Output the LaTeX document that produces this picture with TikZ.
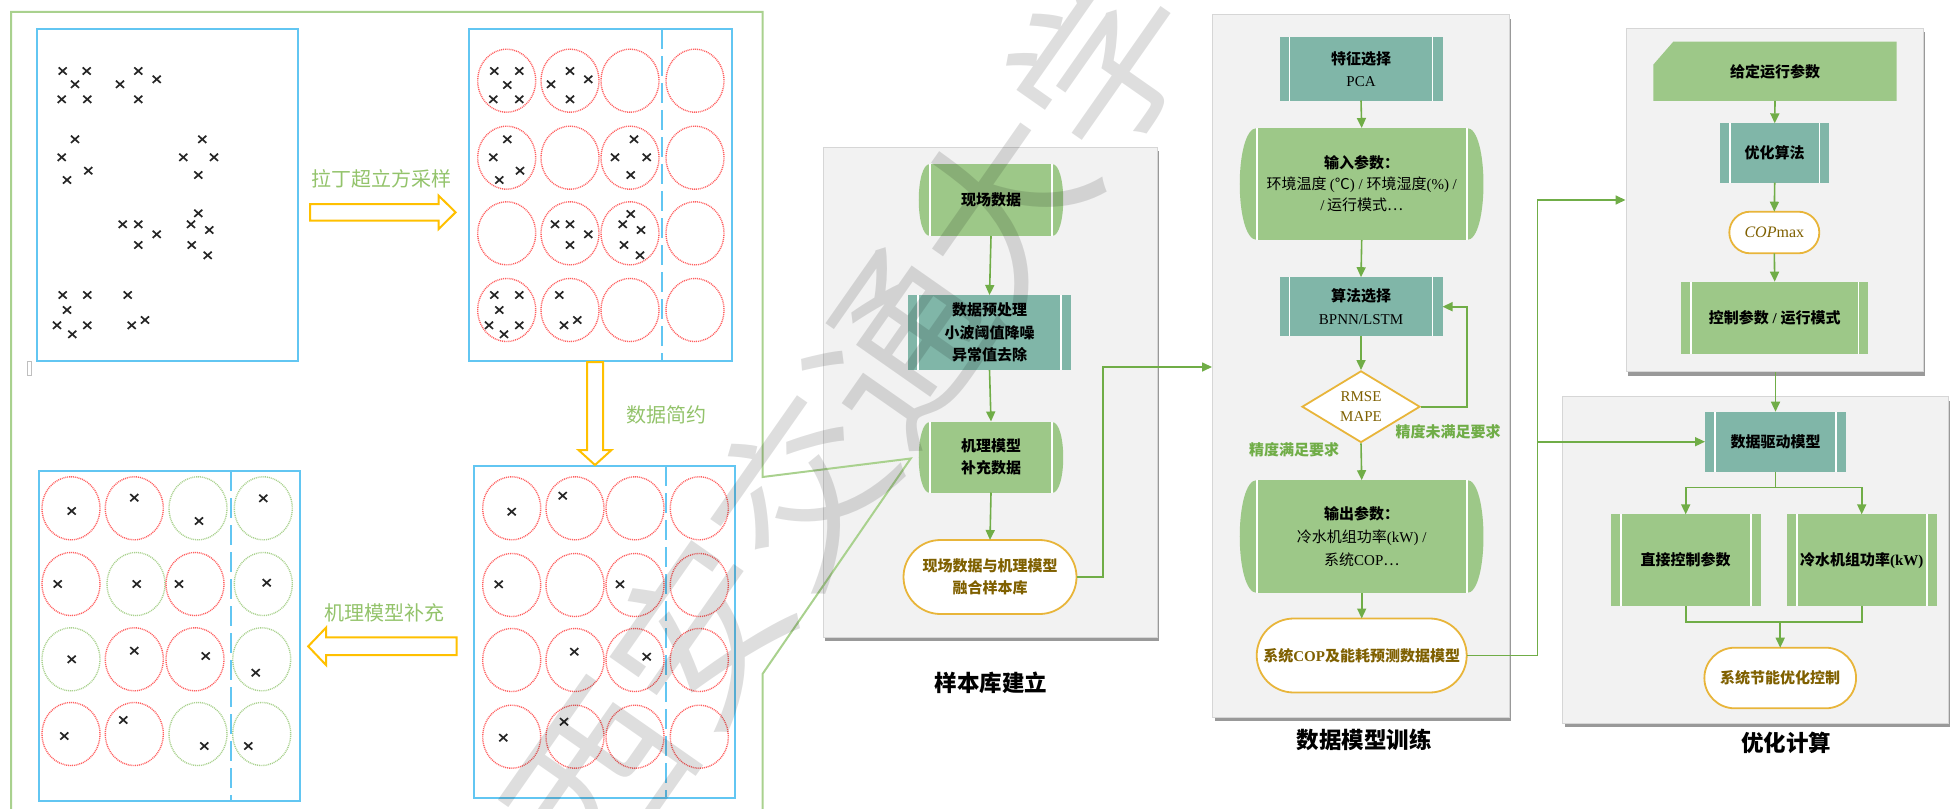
\documentclass[tikz,border=0pt]{standalone}
\usepackage{fontspec}
\setmainfont{Noto Sans CJK SC}
\newfontfamily\lat{Liberation Serif}
\usetikzlibrary{arrows.meta,shapes.geometric,shapes.misc,calc,shadows}
\definecolor{gfill}{HTML}{9DC888}
\definecolor{tfill}{HTML}{80B6A8}
\definecolor{cgreen}{HTML}{70AD47}
\definecolor{lgreen}{HTML}{A9D18E}
\definecolor{lblgreen}{HTML}{93C36B}
\definecolor{bblue}{HTML}{62C6F2}
\definecolor{rdot}{HTML}{FF5F5F}
\definecolor{gdot}{HTML}{A9D18E}
\definecolor{gold}{HTML}{E8B53A}
\definecolor{tbrown}{HTML}{7F6000}
\definecolor{arrowy}{HTML}{FFC000}
\definecolor{pfill}{HTML}{F2F2F2}
\definecolor{pline}{HTML}{D6D6D6}
\pgfdeclarelayer{back}
\pgfdeclarelayer{shp}
\pgfsetlayers{back,shp,main}
\tikzset{
  bluebox/.style={draw=bblue, line width=2.2pt},
  bluedash/.style={draw=bblue, line width=2pt, dash pattern=on 20pt off 7pt},
  rell/.style={draw=rdot, line width=1.4pt, dash pattern=on 1pt off 0.9pt},
  gell/.style={draw=gdot, line width=1.4pt, dash pattern=on 1pt off 0.9pt},
  xmk/.style={draw=black!85, line width=1.7pt},
  xm/.pic={\draw[xmk] (-4,-3.6) -- (4,3.6) (-4,3.6) -- (4,-3.6);},
  blockarrow/.style={draw=arrowy, line width=2pt, fill=white, line join=miter},
  lbl/.style={text=lblgreen, font=\fontsize{20}{24}\selectfont},
  panel/.style={rectangle, fill=pfill, draw=pline, line width=1pt, inner sep=0pt,
    drop shadow={shadow xshift=2pt, shadow yshift=-4pt, fill=black!40, opacity=1}},
  title/.style={font=\fontsize{22.5}{26}\selectfont\bfseries},
  proc/.style={rectangle, fill=#1, inner sep=0pt, outer sep=0pt, align=center,
    font=\fontsize{15}{22.5}\selectfont\bfseries,
    path picture={\draw[white,line width=1.6pt]
      ([xshift=10pt]path picture bounding box.north west) -- ([xshift=10pt]path picture bounding box.south west)
      ([xshift=-10pt]path picture bounding box.north east) -- ([xshift=-10pt]path picture bounding box.south east);}},
  drum/.style={rectangle, fill=gfill, inner sep=0pt, outer sep=0pt, align=center,
    font=\fontsize{15}{22.5}\selectfont},
  stadium/.style={rounded rectangle, draw=gold, line width=1.8pt, fill=white, inner sep=0pt,
    outer sep=0pt, text=tbrown, align=center, font=\fontsize{15}{22}\selectfont\bfseries},
  conn/.style={draw=cgreen, line width=1.6pt},
  arr/.style={conn, -{Triangle[length=10pt,width=9pt]}},
  note/.style={text=cgreen, font=\fontsize{15}{18}\selectfont\bfseries},
}
\newcommand\sidebulge[2]{%
  \begin{pgfonlayer}{shp}
  \fill[gfill] (#1.north east) .. controls ($(#1.north east)+(4*#2/3,0)$) and ($(#1.south east)+(4*#2/3,0)$) .. (#1.south east) -- cycle;
  \fill[gfill] (#1.north west) .. controls ($(#1.north west)+(-4*#2/3,0)$) and ($(#1.south west)+(-4*#2/3,0)$) .. (#1.south west) -- cycle;
  \end{pgfonlayer}
  \draw[white,line width=1.6pt] (#1.north west) -- (#1.south west) (#1.north east) -- (#1.south east);}
\begin{document}
\begin{tikzpicture}[x=1pt,y=-1pt]
\useasboundingbox (0,0) rectangle (1950,808);

% ---------------- left sampling part ----------------
\draw[draw=lgreen, line width=2pt, line join=miter] (11,812) -- (11,12) -- (762.5,12) -- (762.5,477) -- (910.7,458.5) -- (762.5,674) -- (762.5,812);
\draw[black!25, line width=0.8pt] (27,361) rectangle (31,375);

% box 1
\draw[bluebox] (37,29) rectangle (298,361);
\foreach \a/\b in {62.7/71, 86.7/71, 75/84.3, 61.7/99.3, 87.3/99.3,
  138.3/71, 120/84.3, 156.7/79.3, 138.3/99.3,
  75/139.3, 61.7/157.3, 88.3/170.7, 67/180,
  202.3/139.3, 183.3/157.3, 214/157.3, 198.3/175,
  122.7/224.3, 138.3/224.3, 156.7/234.3, 138.3/245,
  198.3/213.3, 191/224.3, 209.3/230, 191.7/245, 207.7/255.3,
  62.7/295, 87.3/295, 67/310, 57/325.3, 72.3/334.3, 87.3/325.3,
  127.7/295, 131.7/325.3, 145/320}
  \pic at (\a,\b) {xm};

% box 2
\draw[bluebox] (469.3,29.3) rectangle (731.7,360.7);
\draw[bluedash] (661.7,29.3) -- (661.7,360.7);
\foreach \cx in {506.7,570,630,695}
  \foreach \cy in {80.7,157.7,233.3,310}
    \draw[rell] (\cx,\cy) ellipse [x radius=29, y radius=31.5];
\foreach \a/\b in {494.3/71, 519.3/71, 507.3/85, 493.3/99.3, 519.3/99.3,
  570/71, 551/84.3, 588.3/79.3, 570/99.3,
  507.3/139.3, 493.3/157.3, 520/170.7, 499.3/180,
  634/139.3, 615/157.3, 646.7/157.3, 630.7/175,
  555/224.3, 570/224.3, 588.3/234.3, 570/245,
  630.7/214, 622.7/224.3, 641/230, 624/245, 640/255.3,
  494.3/295, 519.3/295, 499.3/310, 489/325.3, 504/334.3, 519.3/325.3,
  559.3/295, 564/325.3, 577.3/320}
  \pic at (\a,\b) {xm};

% box 3
\draw[bluebox] (39,471) rectangle (300,800.7);
\draw[bluedash] (231,471) -- (231,800.7);
\foreach \cx/\cy/\s in {71/508.3/rell, 134.3/508.3/rell, 198/508.3/gell, 263.3/508.3/gell,
  71/584/rell, 136/584/gell, 195/584/rell, 263.3/584/gell,
  71/659.3/gell, 134.3/659.3/rell, 195/659.3/rell, 261.7/659.3/gell,
  71/734/rell, 134.3/734/rell, 198/734/gell, 261.7/734/gell}
  \draw[\s] (\cx,\cy) ellipse [x radius=29, y radius=31.5];
\foreach \a/\b in {71.7/511, 134.3/497.7, 199/521, 263.3/498.3,
  57.7/584, 136.7/584, 179/584, 266.7/582.7,
  71.7/659.3, 134.3/650.7, 205.7/656, 255.7/672.7,
  64.3/736, 123.3/720, 204.3/746, 248.3/746}
  \pic at (\a,\b) {xm};

% box 4
\draw[bluebox] (474,466) rectangle (735,798);
\draw[bluedash] (666,466) -- (666,798);
\foreach \cx in {511.7,575,635,699.3}
  \foreach \cy in {508.3,585,660,736.7}
    \draw[rell] (\cx,\cy) ellipse [x radius=29, y radius=31.5];
\foreach \a/\b in {511.7/511.7, 562.7/495.7, 498.7/584.3, 620/584.3,
  574.3/651.7, 646.7/656.7, 503.3/737.7, 564/721.7}
  \pic at (\a,\b) {xm};

% block arrows
\draw[blockarrow] (310,204) -- (438.7,204) -- (438.7,195.7) -- (455.6,212.3) -- (438.7,229) -- (438.7,220.7) -- (310,220.7) -- cycle;
\draw[blockarrow] (587,362) -- (603,362) -- (603,450) -- (611.5,450) -- (595,465) -- (578.5,450) -- (587,450) -- cycle;
\draw[blockarrow] (456.5,637.3) -- (326,637.3) -- (326,627.7) -- (308.2,646.3) -- (326,665) -- (326,655) -- (456.5,655) -- cycle;
\node[lbl] (lab1) at (381.7,179) {拉丁超立方采样};
\node[lbl] (lab2) at (666.7,414.7) {数据简约};
\node[lbl] (lab3) at (384,613.3) {机理模型补充};

% ---------------- panels ----------------
\begin{pgfonlayer}{back}
\node[panel, minimum width=334pt, minimum height=490pt] (P1) at (990,392) {};
\node[panel, minimum width=296.5pt, minimum height=702pt] (P2) at (1360.75,366) {};
\node[panel, minimum width=297.3pt, minimum height=343.4pt] (P3) at (1774.65,200) {};
\node[panel, minimum width=385.6pt, minimum height=326.6pt] (P4) at (1755.5,560) {};
\end{pgfonlayer}
\node[title] (t1) at (991,683) {样本库建立};
\node[title] (t2) at (1364,740) {数据模型训练};
\node[title] (t4) at (1786,743) {优化计算};

% panel 1
\node[drum, font=\fontsize{15}{22.5}\selectfont\bfseries, minimum width=122pt, minimum height=72pt] (n1) at (991,200) {现场数据};
\node[proc=tfill, minimum width=163pt, minimum height=75pt] (n2) at (989.5,332.5) {数据预处理\\小波阈值降噪\\异常值去除};
\node[drum, font=\fontsize{15}{22.5}\selectfont\bfseries, minimum width=122pt, minimum height=71pt] (n3) at (991,457) {机理模型\\补充数据};
\node[stadium, minimum width=173pt, minimum height=74pt] (n4) at (990,577) {现场数据与机理模型\\融合样本库};
\sidebulge{n1}{11}
\sidebulge{n3}{11}
\draw[arr] (n1.south) -- (n2.north);
\draw[arr] (n2.south) -- (n3.north);
\draw[arr] (n3.south) -- (n4.north);
\coordinate (j1) at (1103,577);
\coordinate (j1b) at (1103,367);
\draw[arr] (n4.east) -- (j1) -- (j1b) -- (j1b -| P2.west);

% panel 2
\node[proc=tfill, minimum width=163pt, minimum height=63pt] (m1) at (1361,69) {特征选择\\{\lat\mdseries PCA}};
\node[drum, minimum width=210pt, minimum height=112pt, font=\fontsize{15}{21}\selectfont] (m2) at (1361.7,184)
  {{\bfseries 输入参数：}\\环境温度 {\lat (}℃{\lat ) / }环境湿度{\lat (\%) /}\\{\lat /\,}运行模式…};
\node[proc=tfill, minimum width=163pt, minimum height=59pt] (m3) at (1361,306.7) {算法选择\\{\lat\mdseries BPNN/LSTM}};
\node[diamond, draw=gold, line width=1.8pt, fill=white, minimum width=118pt, minimum height=63pt, inner sep=0pt,
  text=tbrown, align=center, font=\lat\fontsize{15}{20}\selectfont] (m4) at (1361,406.7) {RMSE\\MAPE};
\node[drum, minimum width=210pt, minimum height=113pt, font=\fontsize{15}{23}\selectfont] (m5) at (1361.7,536.7)
  {{\bfseries 输出参数：}\\冷水机组功率{\lat (kW) /}\\系统{\lat COP}…};
\node[stadium, minimum width=210pt, minimum height=74pt] (m6) at (1361.7,655.5) {系统{\lat COP}及能耗预测数据模型};
\sidebulge{m2}{16.7}
\sidebulge{m5}{16.7}
\draw[arr] (m1.south) -- (m2.north);
\draw[arr] (m2.south) -- (m3.north);
\draw[arr] (m3.south) -- (m4.north);
\coordinate (lp) at (1466.7,406.7);
\draw[arr] (m4.east) -- (lp) |- (m3.east);
\draw[arr] (m4.south) -- (m5.north);
\draw[arr] (m5.south) -- (m6.north);
\node[note] (l1) at (1448,431.7) {精度未满足要求};
\node[note] (l2) at (1294,450) {精度满足要求};

% panel 3
\node[inner sep=0pt, outer sep=0pt, minimum width=243.4pt, minimum height=59.3pt, font=\fontsize{15}{22}\selectfont\bfseries] (o1) at (1775,71.3) {给定运行参数};
\begin{pgfonlayer}{shp}
\fill[gfill] ($(o1.north west)+(20,0)$) -- (o1.north east) -- (o1.south east) -- (o1.south west) -- ($(o1.north west)+(0,23)$) -- cycle;
\end{pgfonlayer}
\node[proc=tfill, minimum width=109.3pt, minimum height=59.4pt] (o2) at (1774.7,153) {优化算法};
\node[stadium, minimum width=90pt, minimum height=41.6pt, font=\lat\fontsize{16}{20}\selectfont] (o3) at (1774.3,232.5) {\textit{COP}max};
\node[proc=gfill, minimum width=187.3pt, minimum height=72.3pt] (o4) at (1774.7,317.8) {控制参数{\lat\ /\ }运行模式};
\draw[arr] (o1.south) -- (o2.north);
\draw[arr] (o2.south) -- (o3.north);
\draw[arr] (o3.south) -- (o4.north);

% panel 4
\node[proc=tfill, minimum width=141pt, minimum height=60pt] (d1) at (1775.5,441.7) {数据驱动模型};
\node[proc=gfill, minimum width=150pt, minimum height=91.7pt] (d2) at (1685.7,560.2) {直接控制参数};
\node[proc=gfill, minimum width=150pt, minimum height=91.7pt] (d3) at (1861.7,560.2) {冷水机组功率{\lat (kW)}};
\node[stadium, minimum width=151.7pt, minimum height=60.6pt] (d4) at (1780.2,678) {系统节能优化控制};
\draw[arr] (P3.south -| d1.north) -- (d1.north);
\coordinate (fk) at (1775.5,487.3);
\draw[conn] (d1.south) -- (fk);
\draw[arr] (fk) -| (d2.north);
\draw[arr] (fk) -| (d3.north);
\coordinate (mg) at (1780.2,621.7);
\draw[conn] (d2.south) |- (mg) -| (d3.south);
\draw[arr] (mg) -- (d4.north);

% links between panels 2 and 3/4
\coordinate (j2) at (1537.3,655.5);
\coordinate (j3) at (1537.3,441.7);
\coordinate (j4) at (1537.3,200);
\draw[conn] (m6.east) -- (j2) -- (j4);
\draw[arr] (j4) -- (j4 -| P3.west);
\draw[arr] (j3) -- (d1.west);

% watermark
\node[rotate=55, text=black, text opacity=0.13, font=\fontsize{175}{175}\selectfont] (wm) at (850,418) {西安交通大学};
\end{tikzpicture}
\end{document}
